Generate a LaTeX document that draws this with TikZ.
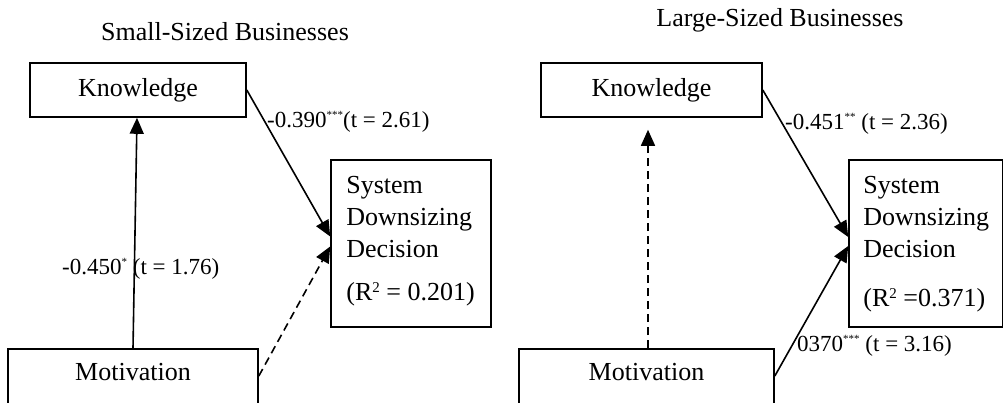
\documentclass[tikz,border=0pt]{standalone}
\usepackage{fontspec}
\setmainfont{Liberation Serif}
\usetikzlibrary{arrows.meta}
\newcommand\mystar[1]{\raisebox{0.38em}{\fontsize{11}{11}\selectfont #1}}
\newcommand\mysq{\raisebox{0.3em}{\fontsize{15}{15}\selectfont 2}}
\tikzset{
  box/.style={draw, line width=1.6pt, inner sep=0pt, font=\fontsize{26}{32}\selectfont},
  arr/.style={line width=1.6pt, -{Triangle[length=16pt,width=14pt]}},
  darr/.style={arr, dash pattern=on 8pt off 5pt},
  lbl/.style={font=\fontsize{23}{27}\selectfont, inner sep=0pt, anchor=west},
  ttl/.style={font=\fontsize{26}{30}\selectfont, inner sep=0pt},
  mot/.style={box, text height=17pt, text depth=12pt},
  systext/.style={font=\fontsize{26}{32}\selectfont, align=left, anchor=north west, inner sep=0pt}
}
\begin{document}
\begin{tikzpicture}[x=1pt,y=-1pt]
\path[use as bounding box] (0,0) rectangle (1004,402);
\clip (0,0) rectangle (1004,402);

% ---------- Small-sized businesses ----------
\node[ttl] (T1) at (225,32) {Small-Sized Businesses};
\node[box, minimum width=216pt, minimum height=54pt] (K1) at (138,90) {Knowledge};
\node[mot, minimum width=250pt, minimum height=58pt] (M1) at (133,378) {Motivation};
\node[box, minimum width=160pt, minimum height=167pt,
  label={[systext, xshift=16pt, yshift=-17pt]north west:{System\\Downsizing\\Decision\\[11pt](R\mysq{} = 0.201)}}] (S1) at (411,243.5) {};

\draw[arr] (K1.east) -- ([yshift=7pt]S1.west);
\draw[darr] ([yshift=2pt]M1.east) -- ([yshift=-3pt]S1.west);
\draw[arr] (M1.north) -- ([xshift=-1pt]K1.south);

\node[lbl] (L1) at (267,122) {-0.390\mystar{***}(t = 2.61)};
\node[lbl] (L2) at (62,269) {-0.450\mystar{*} (t = 1.76)};

% ---------- Large-sized businesses ----------
\node[ttl] (T2) at (780,20) {Large-Sized Businesses};
\node[box, minimum width=221pt, minimum height=54pt] (K2) at (651.5,90) {Knowledge};
\node[mot, minimum width=255pt, minimum height=58pt] (M2) at (646.5,378) {Motivation};
\node[box, minimum width=153.5pt, minimum height=167pt,
  label={[systext, xshift=15pt, yshift=-17pt]north west:{System\\Downsizing\\Decision\\[17pt](R\mysq{} =0.371)}}] (S2) at (925.75,243.5) {};

\draw[arr] (K2.east) -- ([yshift=6.5pt]S2.west);
\draw[arr] ([yshift=2pt]M2.east) -- ([yshift=-2.5pt]S2.west);
\draw[darr] ([xshift=1.5pt]M2.north) -- ([xshift=-3.5pt,yshift=-12pt]K2.south);

\node[lbl] (L3) at (785,124) {-0.451\mystar{**} (t = 2.36)};
\node[lbl] (L4) at (797,346) {0370\mystar{***} (t = 3.16)};
\end{tikzpicture}
\end{document}
